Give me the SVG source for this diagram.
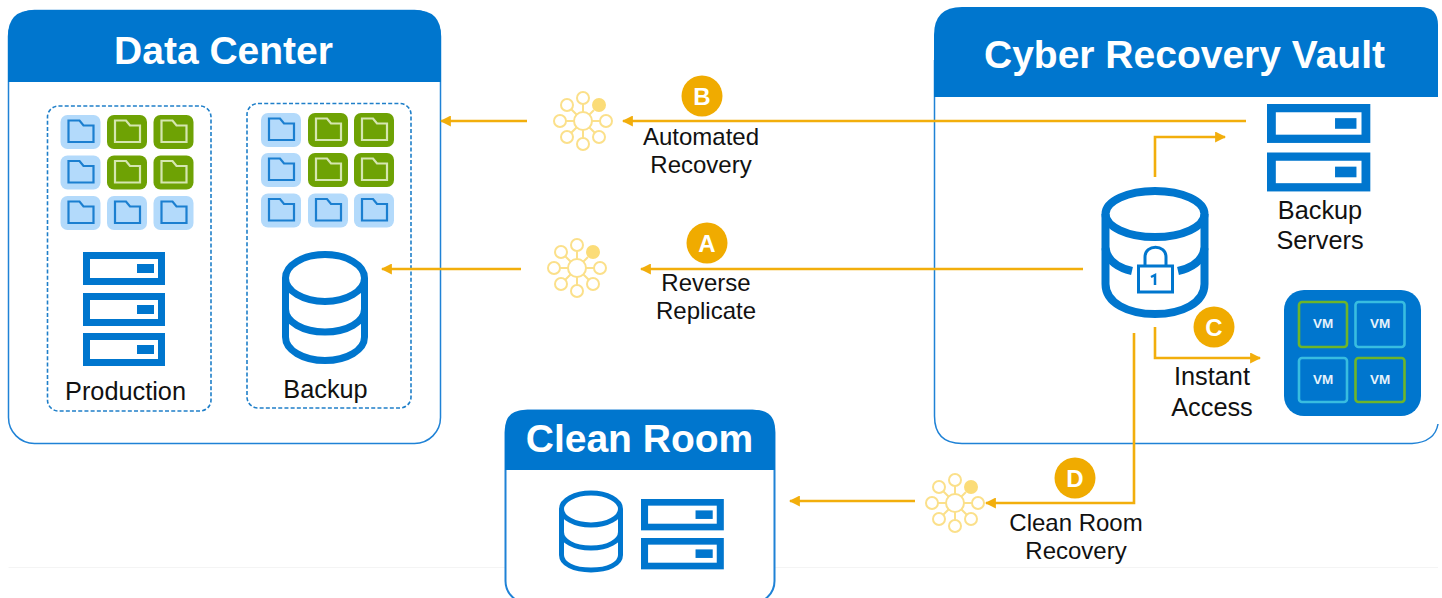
<svg xmlns="http://www.w3.org/2000/svg" width="1442" height="598" viewBox="0 0 1442 598">
<style>
.panel{fill:#fff;stroke:#1f82d6;stroke-width:1.5}
.head{fill:#0076ce}
.title{font-family:"Liberation Sans",Arial,sans-serif;font-weight:700;font-size:39px;fill:#fff;text-anchor:middle}
.lab{font-family:"Liberation Sans",Arial,sans-serif;font-size:24px;fill:#111;text-anchor:middle}
.lab25{font-size:25.300px}
.dash{fill:none;stroke:#1f7fc9;stroke-width:1.6;stroke-dasharray:4 2.2}
.conn{fill:none;stroke:#f2ae0c;stroke-width:2.6}
.badge{fill:#f0ab00}
.bl{font-family:"Liberation Sans",Arial,sans-serif;font-weight:700;font-size:24px;fill:#fff;text-anchor:middle}
.vm{font-family:"Liberation Sans",Arial,sans-serif;font-weight:700;font-size:13.500px;fill:#e6f2fb;text-anchor:middle}
.ico{fill:none;stroke:#0076ce;stroke-width:7}
.ico8{fill:none;stroke:#0076ce;stroke-width:8}
.ico5{fill:none;stroke:#0076ce;stroke-width:5}
.vmg{fill:none;stroke:#6db52a;stroke-width:2.600}
.vmc{fill:none;stroke:#38bde0;stroke-width:2.600}
</style>
<defs>
<marker id="ah" viewBox="0 0 10 10" refX="9" refY="5" markerWidth="11" markerHeight="11" markerUnits="userSpaceOnUse" orient="auto"><path d="M0 0L10 5L0 10Z" fill="#f2ae0c"/></marker>
<g id="fb"><rect width="40" height="34" rx="7" fill="#b3dafb"/><path d="M8 27V5.500H19L23 10.500H33V27Z" fill="none" stroke="#1b7fd0" stroke-width="2.200"/></g>
<g id="fg"><rect width="40" height="34" rx="7" fill="#6ea204"/><path d="M8 27V5.500H19L23 10.500H33V27Z" fill="none" stroke="#d5e6b0" stroke-width="2.200"/></g>
<g id="srv"><rect x="3.500" y="3.500" width="75" height="26" fill="#fff" stroke="#0076ce" stroke-width="7"/><rect x="54" y="12" width="17" height="9" fill="#0076ce"/></g>
<g id="hub" fill="none" stroke="#fbe08a" stroke-width="2">
<circle r="9"/><path d="M0-9V-17M0 9V17M-9 0H-17M9 0H17M-6-6L-12-12M6 6L12 12M-6 6L-12 12M6-6L11-11"/>
<circle cy="-23" r="6"/><circle cy="23" r="6"/><circle cx="-23" r="6"/><circle cx="23" r="6"/><circle cx="-16" cy="-16" r="6"/><circle cx="16" cy="16" r="6"/><circle cx="-16" cy="16" r="6"/><circle cx="16" cy="-16" r="6" fill="#fbdc78" stroke="#fbdc78"/>
</g>
</defs>

<g id="data-center">
<rect class="panel" x="8.500" y="10.500" width="432" height="433" rx="26"/>
<path class="head" d="M8 82V36Q8 10 34 10H415Q441 10 441 36V82Z"/>
<text class="title" x="223.500" y="64">Data Center</text>
</g>

<g id="production">
<rect class="dash" x="47.500" y="106" width="163.500" height="305" rx="11"/>
<use href="#fb" x="60.500" y="115"/><use href="#fg" x="107" y="115"/><use href="#fg" x="153.500" y="115"/>
<use href="#fb" x="60.500" y="155.500"/><use href="#fg" x="107" y="155.500"/><use href="#fg" x="153.500" y="155.500"/>
<use href="#fb" x="60.500" y="196"/><use href="#fb" x="107" y="196"/><use href="#fb" x="153.500" y="196"/>
<use href="#srv" x="83" y="252"/><use href="#srv" x="83" y="293"/><use href="#srv" x="83" y="333"/>
<text class="lab lab25" x="125.500" y="400">Production</text>
</g>

<g id="backup">
<rect class="dash" x="247" y="103.500" width="164" height="304.500" rx="11"/>
<use href="#fb" x="261" y="113"/><use href="#fg" x="308" y="113"/><use href="#fg" x="354" y="113"/>
<use href="#fb" x="261" y="153"/><use href="#fg" x="308" y="153"/><use href="#fg" x="354" y="153"/>
<use href="#fb" x="261" y="193.500"/><use href="#fb" x="308" y="193.500"/><use href="#fb" x="354" y="193.500"/>
<g class="ico"><ellipse cx="325" cy="278" rx="39.500" ry="23.500"/><path d="M285.500 278V337C285.500 350 303 360.500 325 360.500S364.500 350 364.500 337V278M285.500 309C285.500 322 303 332 325 332S364.500 322 364.500 309"/></g>
<text class="lab lab25" x="325.500" y="398">Backup</text>
</g>

<g id="cyber-recovery-vault">
<path class="panel" d="M934.500 60V416Q934.500 443.500 962 443.500H1412Q1435 442 1438 424V60Z" style="stroke:none"/>
<path d="M934.500 60V416Q934.500 443.500 962 443.500H1412Q1435 442 1438 424" fill="none" stroke="#1f82d6" stroke-width="1.500"/>
<path class="head" d="M934 97V35Q934 7 962 7H1420Q1438 7 1438 25V97Z"/>
<text class="title" x="1184.500" y="68">Cyber Recovery Vault</text>
</g>

<g id="backup-servers">
<g transform="translate(1267 104) scale(1.260 1.180)"><use href="#srv"/></g>
<g transform="translate(1267 152.500) scale(1.260 1.180)"><use href="#srv"/></g>
<text class="lab lab25"><tspan x="1320" y="219">Backup</tspan><tspan x="1320" y="249">Servers</tspan></text>
</g>

<g id="vault-storage">
<g class="ico8"><ellipse cx="1155" cy="214" rx="49.500" ry="23"/>
<path d="M1105.500 214V284C1105.500 303 1128 314 1155 314S1204.500 303 1204.500 284V214"/>
<path d="M1105.500 248C1107 261 1119 268 1132 271M1204.500 248C1203 261 1191 268 1178 271"/></g>
<g fill="none" stroke="#0076ce" stroke-width="3"><rect x="1138.500" y="266" width="34" height="26"/><path d="M1145 266V257C1145 244 1166 244 1166 257V266"/></g>
<path d="M1151 277L1155 275V285" fill="none" stroke="#0076ce" stroke-width="2.500"/>
</g>

<g id="vm-group">
<rect x="1284" y="290" width="137" height="126" rx="20" fill="#0076ce"/>
<rect class="vmg" x="1299" y="302" width="48" height="45" rx="3"/>
<rect class="vmc" x="1355.500" y="302" width="49" height="45" rx="3"/>
<rect class="vmc" x="1299" y="358" width="48" height="44" rx="3"/>
<rect class="vmg" x="1355.500" y="358" width="49" height="44" rx="3"/>
<text class="vm" x="1323" y="328">VM</text><text class="vm" x="1380" y="328">VM</text>
<text class="vm" x="1323" y="384">VM</text><text class="vm" x="1380" y="384">VM</text>
</g>

<g id="clean-room">
<path d="M8.500 567.500H1438" stroke="#f4f4f4" stroke-width="1" fill="none"/>
<rect class="panel" x="505.500" y="410.500" width="269" height="192.500" rx="22" style="stroke-width:2"/>
<path class="head" d="M505 470V430Q505 410 525 410H755Q775 410 775 430V470Z"/>
<text class="title" x="639.500" y="452">Clean Room</text>
<g class="ico5"><ellipse cx="591" cy="509" rx="29.500" ry="16"/><path d="M561.500 509V555C561.500 564 574 570 591 570S620.500 564 620.500 555V509M561.500 532C561.500 541 574 548 591 548S620.500 541 620.500 532"/></g>
<g transform="translate(641 499) scale(1.010 0.950)"><use href="#srv"/></g>
<g transform="translate(641 538) scale(1.010 0.950)"><use href="#srv"/></g>
</g>

<g id="hubs">
<use href="#hub" x="583" y="121"/>
<use href="#hub" x="577" y="268"/>
<use href="#hub" x="955" y="503"/>
</g>

<g id="connectors">
<path class="conn" marker-end="url(#ah)" d="M527 121H441"/>
<path class="conn" marker-end="url(#ah)" d="M1246 121H623"/>
<path class="conn" marker-end="url(#ah)" d="M521 269H382"/>
<path class="conn" marker-end="url(#ah)" d="M1083 269H641"/>
<path class="conn" marker-end="url(#ah)" d="M1155 177V137H1225"/>
<path class="conn" marker-end="url(#ah)" d="M1155 327V358H1260"/>
<path class="conn" marker-end="url(#ah)" d="M1134 333V503H986"/>
<path class="conn" marker-end="url(#ah)" d="M915 501H790"/>
</g>

<g id="labels">
<circle class="badge" cx="702" cy="96" r="20.500"/><text class="bl" x="702" y="104.500">B</text>
<circle class="badge" cx="707" cy="243" r="20.500"/><text class="bl" x="707" y="251.500">A</text>
<circle class="badge" cx="1214" cy="327" r="20.500"/><text class="bl" x="1214" y="335.500">C</text>
<circle class="badge" cx="1075" cy="478" r="20.500"/><text class="bl" x="1075" y="486.500">D</text>
<text class="lab"><tspan x="701" y="145">Automated</tspan><tspan x="701" y="173">Recovery</tspan></text>
<text class="lab"><tspan x="706" y="291">Reverse</tspan><tspan x="706" y="319">Replicate</tspan></text>
<text class="lab lab25"><tspan x="1212" y="385">Instant</tspan><tspan x="1212" y="416">Access</tspan></text>
<text class="lab"><tspan x="1076" y="531">Clean Room</tspan><tspan x="1076" y="559">Recovery</tspan></text>
</g>
</svg>
